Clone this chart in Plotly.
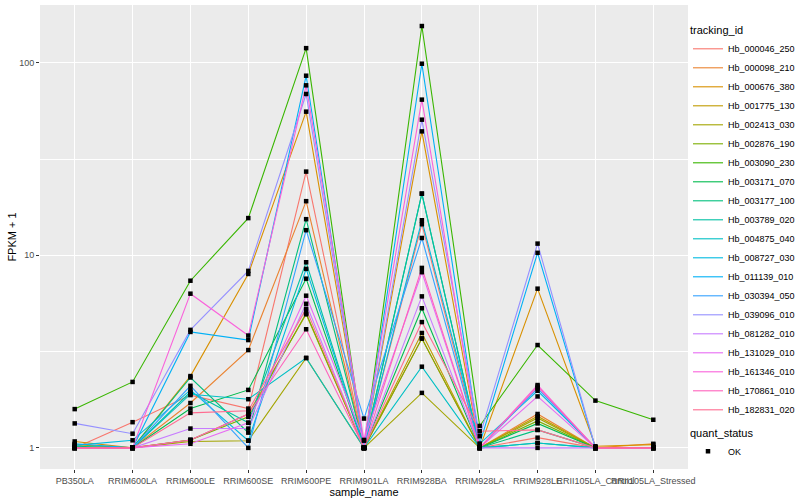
import plotly.graph_objects as go

samples = ["PB350LA", "RRIM600LA", "RRIM600LE", "RRIM600SE", "RRIM600PE", "RRIM901LA",
           "RRIM928BA", "RRIM928LA", "RRIM928LE", "RRII105LA_Control", "RRII105LA_Stressed"]

ids = ["Hb_000046_250", "Hb_000098_210", "Hb_000676_380", "Hb_001775_130", "Hb_002413_030",
       "Hb_002876_190", "Hb_003090_230", "Hb_003171_070", "Hb_003177_100", "Hb_003789_020",
       "Hb_004875_040", "Hb_008727_030", "Hb_011139_010", "Hb_030394_050", "Hb_039096_010",
       "Hb_081282_010", "Hb_131029_010", "Hb_161346_010", "Hb_170861_010", "Hb_182831_020"]

colors = ["#F8766D", "#EA8331", "#D89000", "#C09B00", "#A3A500", "#7CAE00", "#39B600", "#00BB4E",
          "#00BF7D", "#00C1A3", "#00BFC4", "#00BAE0", "#00B0F6", "#35A2FF", "#9590FF", "#C77CFF",
          "#E76BF3", "#FA62DB", "#FF62BC", "#FF6C90"]

v_000046_250 = [1.00, 1.36, 1.88, 1.60, 27.2, 1.00, 14.5, 1.00, 1.13, 1.00, 1.00]
v_000098_210 = [1.00, 1.00, 1.71, 3.22, 19.1, 1.00, 3.70, 1.00, 1.50, 1.00, 1.05]
v_000676_380 = [1.08, 1.00, 2.36, 8.00, 55.7, 1.00, 44.0, 1.00, 6.71, 1.02, 1.04]
v_001775_130 = [1.04, 1.00, 1.10, 1.50, 4.94, 1.00, 3.95, 1.00, 1.46, 1.00, 1.00]
v_002413_030 = [1.00, 1.00, 1.08, 1.09, 2.93, 1.00, 1.93, 1.00, 1.43, 1.00, 1.00]
v_002876_190 = [1.00, 1.00, 1.10, 1.45, 5.00, 1.00, 3.70, 1.00, 1.38, 1.00, 1.00]
v_003090_230 = [1.59, 2.20, 7.38, 15.6, 119.0, 1.00, 155.0, 1.30, 3.42, 1.76, 1.40]
v_003171_070 = [1.00, 1.00, 1.60, 2.00, 7.56, 1.00, 5.31, 1.00, 1.34, 1.00, 1.00]
v_003177_100 = [1.02, 1.00, 2.32, 1.20, 15.4, 1.00, 20.9, 1.00, 1.24, 1.00, 1.00]
v_003789_020 = [1.00, 1.00, 1.95, 1.35, 9.20, 1.00, 20.9, 1.00, 1.06, 1.00, 1.00]
v_004875_040 = [1.00, 1.00, 1.90, 1.79, 2.93, 1.00, 2.64, 1.00, 1.06, 1.00, 1.00]
v_008727_030 = [1.03, 1.095, 2.00, 1.09, 8.50, 1.00, 15.2, 1.05, 1.98, 1.00, 1.00]
v_011139_010 = [1.05, 1.00, 4.00, 3.63, 85.6, 1.00, 98.8, 1.05, 10.3, 1.00, 1.00]
v_030394_050 = [1.00, 1.00, 2.10, 1.00, 13.5, 1.42, 12.3, 1.00, 2.04, 1.00, 1.00]
v_039096_010 = [1.34, 1.185, 4.10, 8.30, 68.8, 1.00, 50.6, 1.15, 11.5, 1.00, 1.00]
v_081282_010 = [1.00, 1.00, 1.26, 1.26, 5.60, 1.00, 6.12, 1.00, 1.00, 1.00, 1.00]
v_131029_010 = [1.00, 1.00, 1.05, 1.35, 6.17, 1.10, 8.17, 1.00, 1.85, 1.00, 1.00]
v_161346_010 = [1.00, 1.00, 6.32, 3.83, 76.3, 1.09, 64.3, 1.00, 2.12, 1.00, 1.00]
v_170861_010 = [1.00, 1.00, 1.10, 1.50, 4.13, 1.00, 8.60, 1.00, 2.08, 1.00, 1.00]
v_182831_020 = [1.00, 1.00, 1.52, 1.56, 5.27, 1.00, 4.50, 1.22, 1.24, 1.00, 1.00]

values = [v_000046_250, v_000098_210, v_000676_380, v_001775_130, v_002413_030,
          v_002876_190, v_003090_230, v_003171_070, v_003177_100, v_003789_020,
          v_004875_040, v_008727_030, v_011139_010, v_030394_050, v_039096_010,
          v_081282_010, v_131029_010, v_161346_010, v_170861_010, v_182831_020]

FONT = "Liberation Sans, Arial, Helvetica, sans-serif"

fig = go.Figure()
for name, col, vals in zip(ids, colors, values):
    fig.add_trace(go.Scatter(x=samples, y=vals, mode="lines", name=name,
                             line=dict(color=col, width=1.1), legend="legend"))

all_x = [s for vals in values for s in samples]
all_y = [v for vals in values for v in vals]
fig.add_trace(go.Scatter(x=all_x, y=all_y, mode="markers", name="OK",
                         marker=dict(symbol="square", size=4.5, color="black"),
                         legend="legend2"))

fig.update_layout(
    width=800, height=500,
    margin=dict(l=40, r=112, t=5, b=31, autoexpand=False),
    paper_bgcolor="white", plot_bgcolor="#EBEBEB",
    font=dict(family=FONT, size=9, color="#4D4D4D"),
    xaxis=dict(type="category", range=[-0.6, 10.6], showgrid=True, gridcolor="white",
               gridwidth=1.1, ticks="outside", ticklen=3, tickcolor="#333333", tickangle=0,
               tickfont=dict(size=9, color="#4D4D4D"), zeroline=False, showline=False,
               title=dict(text="sample_name", font=dict(size=11, color="black"), standoff=0)),
    yaxis=dict(type="log", range=[-0.1096, 2.2996], tickvals=[1, 10, 100],
               ticktext=["1", "10", "100"], showgrid=True, gridcolor="white", gridwidth=1.1,
               ticks="outside", ticklen=3, tickcolor="#333333",
               tickfont=dict(size=9, color="#4D4D4D"), zeroline=False, showline=False,
               minor=dict(dtick=0.5, tick0=0, showgrid=True, gridcolor="white", gridwidth=0.5, ticks=""),
               title=dict(text="FPKM + 1", font=dict(size=11, color="black"), standoff=0)),
    legend=dict(xref="container", yref="container", x=0.86, y=0.96, xanchor="left", yanchor="top",
                title=dict(text="tracking_id", font=dict(size=11, color="black")),
                font=dict(size=9, color="black"), bgcolor="rgba(0,0,0,0)", tracegroupgap=0,
                itemwidth=30),
    legend2=dict(xref="container", yref="container", x=0.86, y=0.155, xanchor="left", yanchor="top",
                 title=dict(text="quant_status", font=dict(size=11, color="black")),
                 font=dict(size=9, color="black"), bgcolor="rgba(0,0,0,0)", itemwidth=30),
)
try:
    fig.update_layout(legend_maxheight=470)
except Exception:
    pass

fig.write_html("out.html", config={"displayModeBar": False},
               post_script="document.body.style.margin='0px';")
